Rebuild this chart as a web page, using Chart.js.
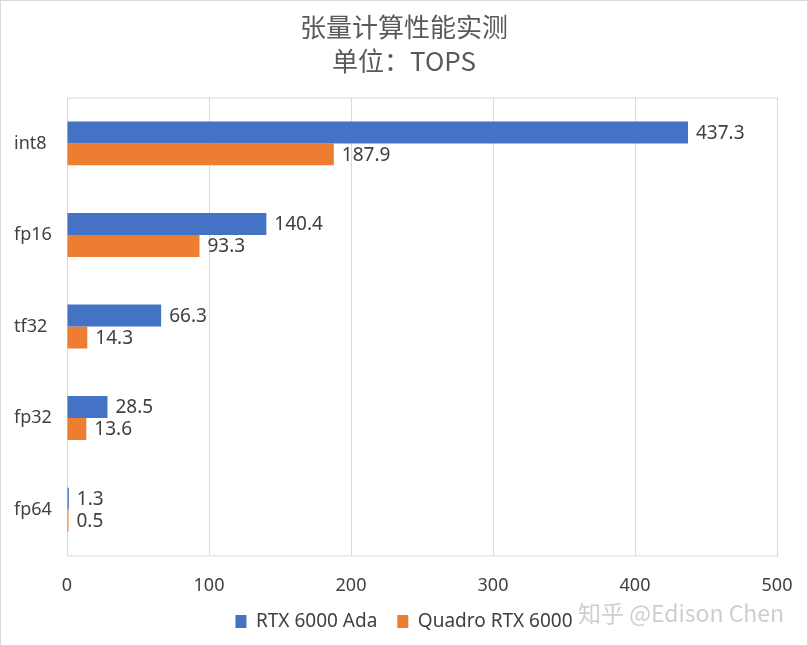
<!DOCTYPE html>
<html>
<head>
<meta charset="utf-8">
<script src="https://cdn.jsdelivr.net/npm/chart.js@4"></script>
<style>
  body { margin: 0; background: #fff; }
  #wrap { width: 808px; height: 646px; }
</style>
</head>
<body>
<div id="wrap"><canvas id="myChart" width="808" height="646"></canvas></div>
<script>
const categorias = ["int8", "fp16", "tf32", "fp32", "fp64"];
const rtxAda = [437.3, 140.4, 66.3, 28.5, 1.3];
const quadro = [187.9, 93.3, 14.3, 13.6, 0.5];
const ticksX = [0, 100, 200, 300, 400, 500];

const fuente = "'Noto Sans', 'Noto Sans CJK SC', sans-serif";

// etiquetas al final de cada barra + marco del area
const extras = {
  id: "extras",
  beforeDatasetsDraw(chart) {
    const { ctx, chartArea: a } = chart;
    ctx.save();
    ctx.strokeStyle = "#d9d9d9";
    ctx.lineWidth = 1;
    ctx.strokeRect(a.left + 0.5, a.top + 0.5, a.right - a.left, a.bottom - a.top);
    ctx.restore();
  },
  afterDatasetsDraw(chart) {
    const ctx = chart.ctx;
    ctx.save();
    ctx.font = "19px " + fuente;
    ctx.fillStyle = "#404040";
    ctx.textBaseline = "middle";
    chart.data.datasets.forEach((ds, i) => {
      chart.getDatasetMeta(i).data.forEach((bar, j) => {
        ctx.fillText(ds.data[j].toFixed(1), bar.x + 8, bar.y + 1);
      });
    });
    ctx.restore();
  },
  afterDraw(chart) {
    const ctx = chart.ctx;
    ctx.save();
    ctx.strokeStyle = "#d9d9d9";
    ctx.strokeRect(0.5, 0.5, chart.width - 1, chart.height - 1);
    // marca de agua
    ctx.font = "23px 'Noto Sans CJK SC', sans-serif";
    ctx.fillStyle = "rgba(190,190,190,0.75)";
    ctx.textBaseline = "middle";
    ctx.fillText("知乎 @Edison Chen", 578, 613);
    ctx.restore();
  }
};

new Chart(document.getElementById("myChart"), {
  type: "bar",
  data: {
    labels: categorias,
    datasets: [
      { label: "RTX 6000 Ada", data: rtxAda, backgroundColor: "#4472C4", minBarLength: 1 },
      { label: "Quadro RTX 6000", data: quadro, backgroundColor: "#ED7D31", minBarLength: 1.5 }
    ]
  },
  options: {
    indexAxis: "y",
    responsive: false,
    animation: false,
    categoryPercentage: 0.48,
    barPercentage: 1,
    layout: { padding: { left: 14, right: 14, bottom: 5 } },
    plugins: {
      title: {
        display: true,
        text: ["张量计算性能实测", "单位：TOPS"],
        color: "#595959",
        font: { size: 26, family: "'Noto Sans CJK SC', sans-serif", weight: "normal", lineHeight: 1.3 },
        padding: { top: 10, bottom: 20 }
      },
      legend: {
        position: "bottom",
        labels: {
          color: "#404040",
          font: { size: 19, family: fuente },
          boxWidth: 11,
          boxHeight: 13,
          padding: 20
        }
      },
      tooltip: { enabled: false }
    },
    scales: {
      x: {
        min: 0,
        max: 500,
        afterBuildTicks: (s) => { s.ticks = ticksX.map(v => ({ value: v })); },
        afterFit: (s) => { s.height -= 25; s.paddingRight = 31; },
        grid: { color: "#d9d9d9", drawTicks: false },
        border: { display: false },
        ticks: { color: "#404040", font: { size: 18, family: fuente }, padding: 20 }
      },
      y: {
        grid: { display: false },
        border: { display: false },
        ticks: { color: "#404040", font: { size: 18, family: fuente }, padding: 0, crossAlign: "far" },
        afterFit: (s) => { s.width = 53; }
      }
    }
  },
  plugins: [extras]
});
</script>
</body>
</html>
